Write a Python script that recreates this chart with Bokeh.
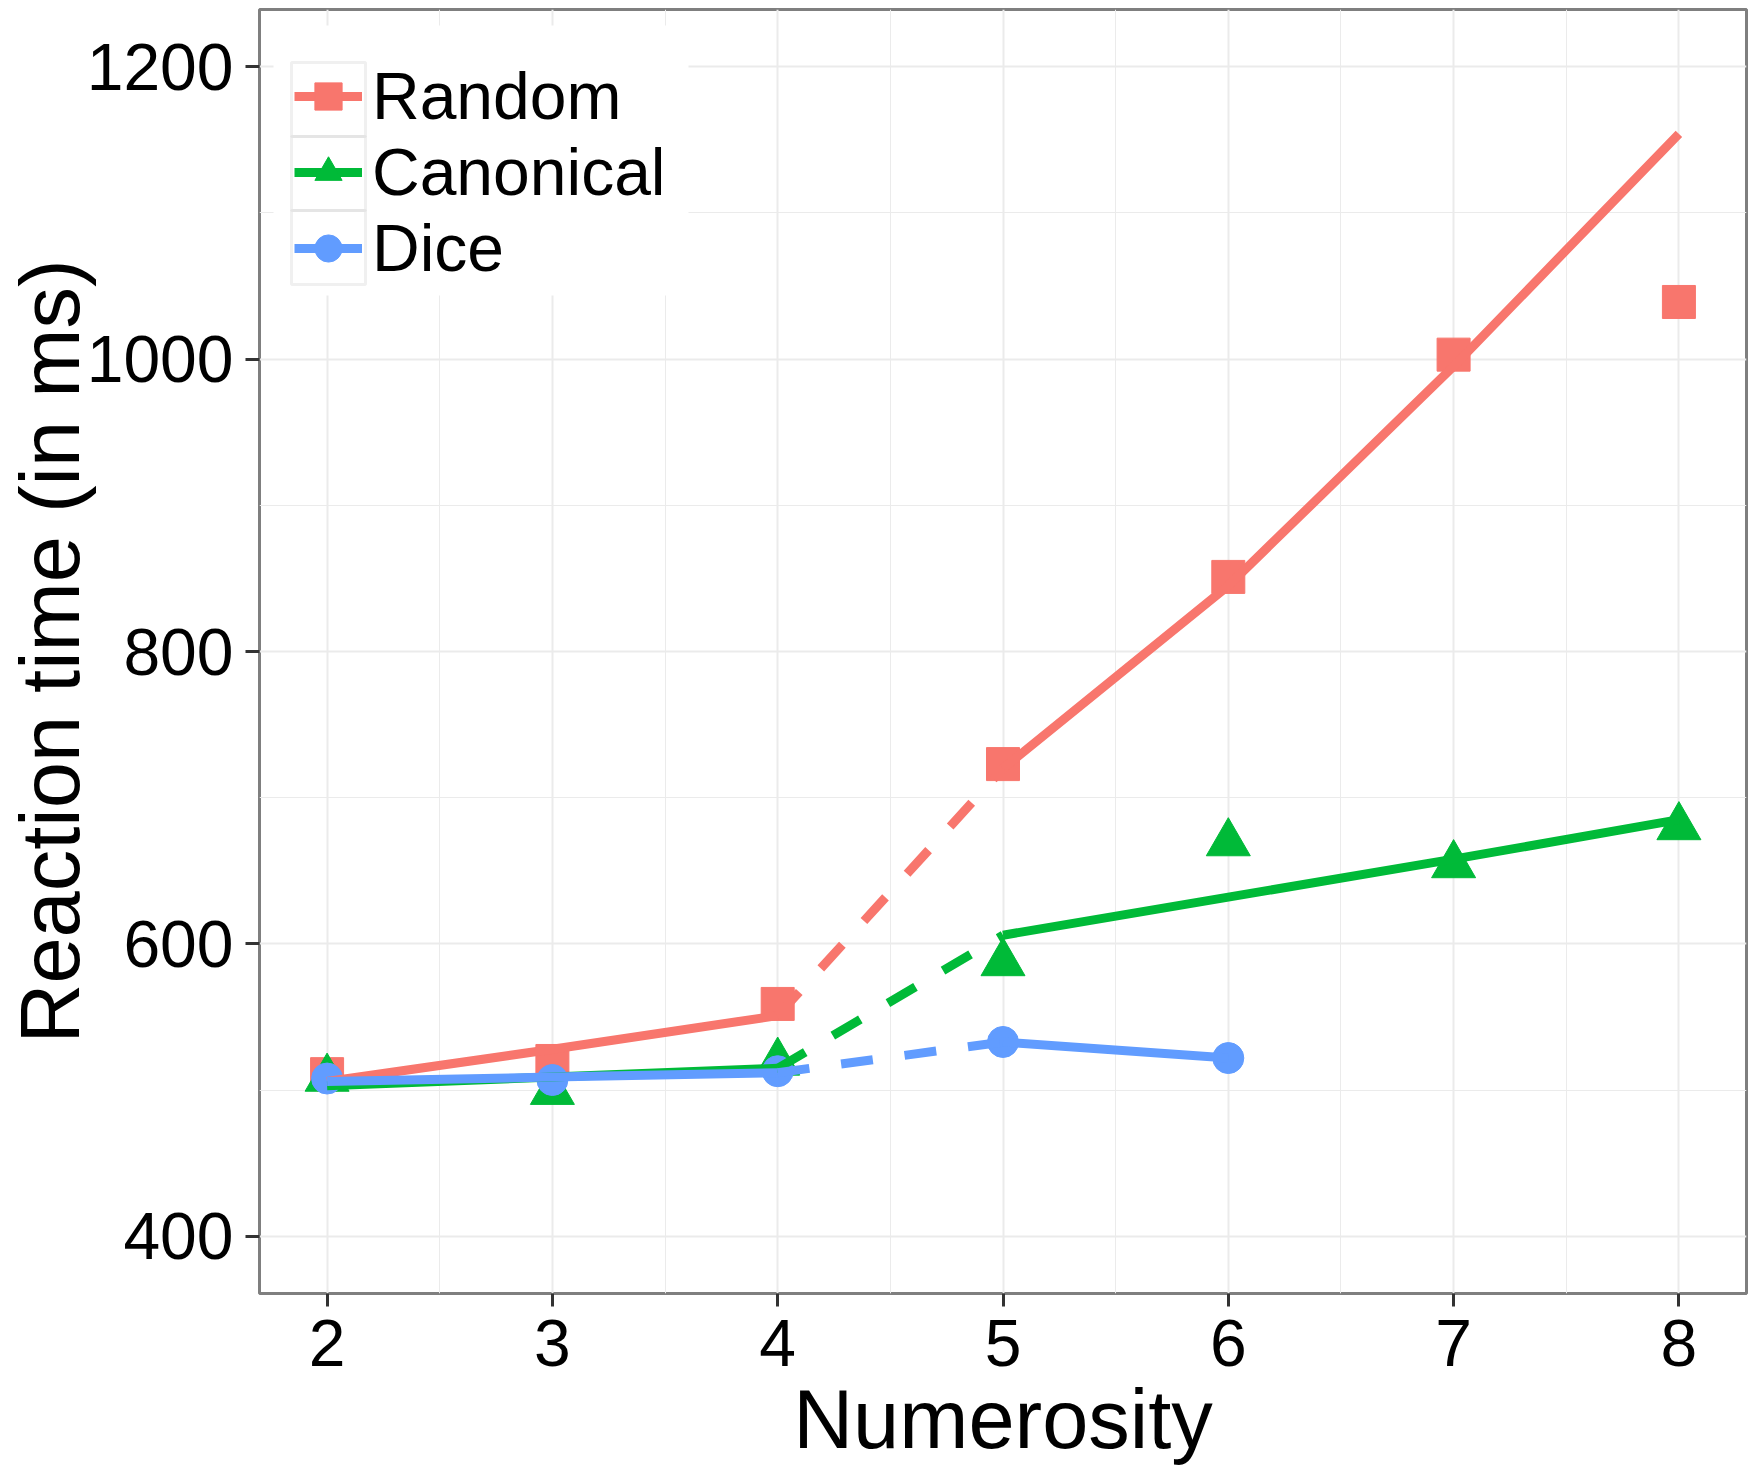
from bokeh.plotting import figure
from bokeh.models import FixedTicker, Legend, LegendItem, BoxAnnotation, Range1d
from bokeh.embed import file_html
from bokeh.resources import INLINE

# ---- data ----
numerosity = [2, 3, 4, 5, 6, 7, 8]
random_rt = [511, 520, 559, 723, 851, 1003, 1039]
canonical_rt = [508, 499, 519, 587, 669, 654, 680]
dice_x = [2, 3, 4, 5, 6]
dice_rt = [508, 507, 513, 533, 522]

# fitted piecewise regression lines
low_x = [2, 3, 4]
random_fit_low = [506, 528, 551]
canonical_fit_low = [503, 509, 515]
dice_fit_low = [506, 509, 512]
high_x = [5, 6, 7, 8]
random_fit_high = [720, 845, 995, 1154]
canonical_fit_high = [606, 632, 658, 685]
dice_high_x = [5, 6]
dice_fit_high = [533, 522]
bridge_x = [4, 5]

x_ticks = [2, 3, 4, 5, 6, 7, 8]
x_minor = [1.5, 2.5, 3.5, 4.5, 5.5, 6.5, 7.5, 8.5]
y_ticks = [400, 600, 800, 1000, 1200]
y_minor = [300, 500, 700, 900, 1100, 1300]

RED = "#F8766D"
GREEN = "#00BA38"
BLUE = "#619CFF"
FONT = "Liberation Sans"

FRAME_W = 1487
FRAME_H = 1284
p = figure(frame_width=FRAME_W, frame_height=FRAME_H,
           x_range=Range1d(1.7, 8.3), y_range=Range1d(361, 1239),
           output_backend="svg", toolbar_location=None,
           min_border_left=259, min_border_right=9, min_border_top=9, min_border_bottom=0)
p.background_fill_color = "white"
p.border_fill_color = "white"
p.outline_line_color = "#7f7f7f"
p.outline_line_width = 3

p.xaxis.ticker = FixedTicker(ticks=x_ticks, minor_ticks=x_minor)
p.yaxis.ticker = FixedTicker(ticks=y_ticks, minor_ticks=y_minor)
for g in (p.xgrid, p.ygrid):
    g.grid_line_color = "#ebebeb"
    g.grid_line_width = 2
    g.minor_grid_line_color = "#ebebeb"
    g.minor_grid_line_width = 1

for ax in (p.xaxis, p.yaxis):
    ax.axis_line_color = None
    ax.major_tick_line_color = "#333333"
    ax.major_tick_line_width = 3
    ax.major_tick_in = 0
    ax.minor_tick_line_color = None
    ax.major_label_text_font = FONT
    ax.major_label_text_font_size = "66px"
    ax.major_label_text_color = "black"
    ax.axis_label_text_font = FONT
    ax.axis_label_text_font_size = "83px"
    ax.axis_label_text_font_style = "normal"
    ax.axis_label_text_color = "black"

p.xaxis.major_tick_out = 13
p.xaxis.major_label_standoff = 13
p.xaxis.axis_label = "Numerosity"
p.xaxis.axis_label_standoff = 4

p.yaxis.major_tick_out = 14
p.yaxis.major_label_standoff = 12
p.yaxis.axis_label = "Reaction time (in ms)"
p.yaxis.axis_label_standoff = -13

# ---- points ----
SZ_SQ, SZ_TRI, SZ_CIR = 33, 44, 31
r_pts = p.scatter(numerosity, random_rt, marker="square", size=SZ_SQ, color=RED)
c_pts = p.scatter(numerosity, canonical_rt, marker="triangle", size=SZ_TRI, color=GREEN)
d_pts = p.scatter(dice_x, dice_rt, marker="circle", size=SZ_CIR, color=BLUE)

# ---- fitted lines ----
LW = 9
DASH = "32 32"
series = [
    (RED, random_fit_low, random_fit_high, high_x),
    (GREEN, canonical_fit_low, canonical_fit_high, high_x),
    (BLUE, dice_fit_low, dice_fit_high, dice_high_x),
]
solid_lines = []
for col, lo, hi, hx in series:
    l1 = p.line(low_x, lo, line_color=col, line_width=LW)
    p.line(bridge_x, [lo[-1], hi[0]], line_color=col, line_width=LW, line_dash=DASH)
    p.line(hx, hi, line_color=col, line_width=LW)
    solid_lines.append(l1)

# ---- legend background and key frames (screen units, frame-relative, y from bottom) ----
p.add_layout(BoxAnnotation(left=14, right=429, top=FRAME_H - 16, bottom=FRAME_H - 286,
                           left_units="screen", right_units="screen",
                           top_units="screen", bottom_units="screen",
                           fill_color="white", fill_alpha=1.0, line_color=None))
KEY_L, KEY_R, KEY_TOP, KEY_H = 32, 106, 53, 74
for i in range(3):
    top = FRAME_H - KEY_TOP - KEY_H * i
    p.add_layout(BoxAnnotation(left=KEY_L, right=KEY_R, top=top, bottom=top - KEY_H,
                               left_units="screen", right_units="screen",
                               top_units="screen", bottom_units="screen",
                               fill_color=None, line_color="#cccccc", line_width=3))

legend = Legend(items=[
    LegendItem(label="Random", renderers=[solid_lines[0], r_pts]),
    LegendItem(label="Canonical", renderers=[solid_lines[1], c_pts]),
    LegendItem(label="Dice", renderers=[solid_lines[2], d_pts]),
], location="top_left", margin=15, padding=20, spacing=0,
    glyph_width=68, glyph_height=74, label_standoff=10,
    label_text_font=FONT, label_text_font_size="66px", label_text_color="black",
    border_line_color="white", border_line_alpha=0.0,
    background_fill_color="white", background_fill_alpha=0.0,
    title=" ", title_text_font_size="8px", title_standoff=5)
p.add_layout(legend)

open("out.html", "w").write(file_html(p, INLINE))
